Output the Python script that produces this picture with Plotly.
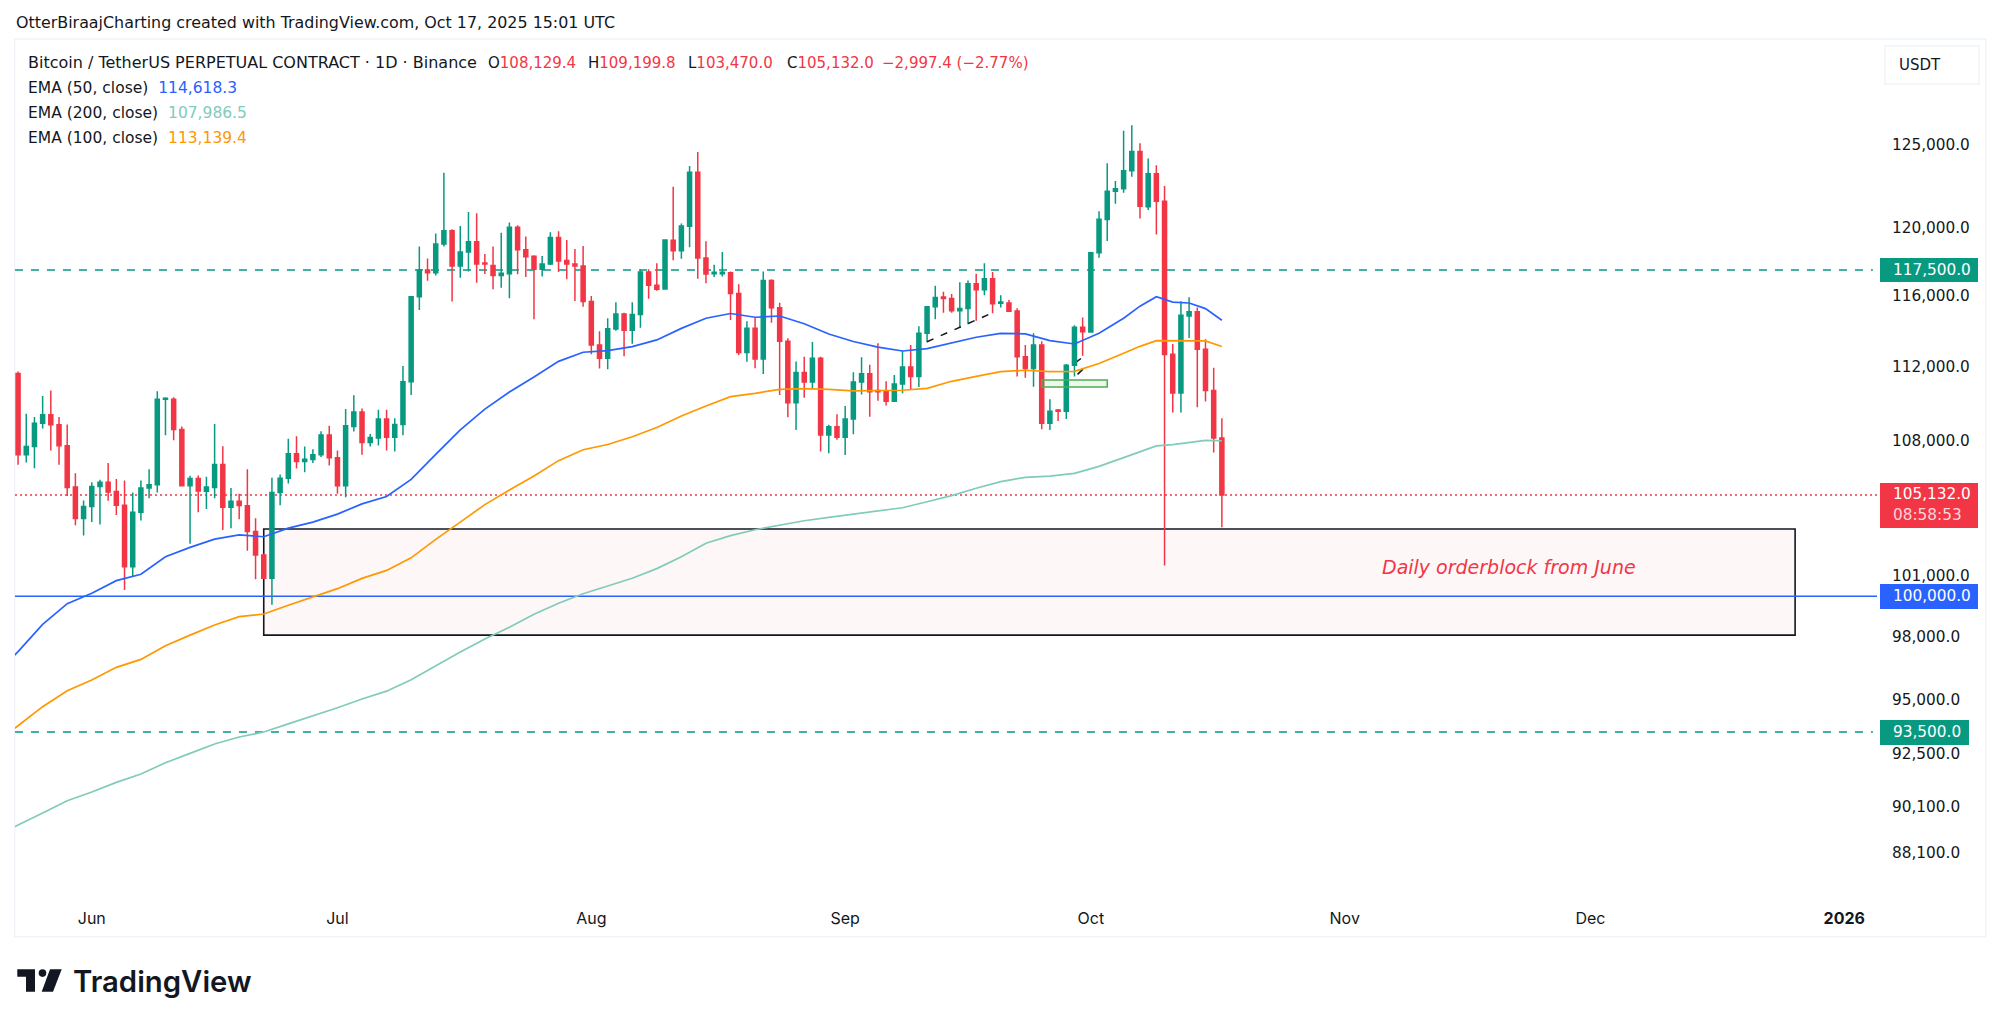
import math
import pandas as pd
import plotly.graph_objects as go

W, H = 2000, 1026
first_day = "2025-05-23"

opens = [111640,107240,107680,108930,109380,108840,107720,105540,103910,104530,105570,105800,105310,104600,101460,104240,105490,105660,110230,110230,108590,105610,105990,105330,105520,106730,104500,104810,104570,103250,102050,100890,105260,106010,107290,106880,106990,107240,108300,107080,105610,108750,109540,107890,108140,109150,108180,108860,
111190,115960,117500,117350,119020,119810,117740,118550,119160,117910,117770,117180,117290,120010,118690,118300,117540,117850,119410,118050,117850,117740,115680,113230,112480,114120,114980,114050,114940,117390,116620,116410,119240,118630,120070,123320,118200,117290,117290,117350,116150,112800,114160,112440,116890,115330,113430,110040,111700,111170,112480,108300,108740,108170,
109160,111170,111630,110700,110640,110120,111060,112000,111470,113880,115390,115940,115860,115160,115280,116710,116360,117000,115580,115600,115150,112570,111910,113220,108920,109640,109570,112100,114220,113950,118510,120470,122170,122320,123420,124590,121240,123230,121570,112710,110570,114860,115100,112980,110700,108129.4]
highs = [111750,109440,109260,110410,110700,109260,108860,106270,104840,105800,105920,106800,105970,105890,105260,105890,106480,110670,110340,110340,108750,106130,106150,106080,108890,107700,105490,105190,106480,103930,102120,106030,106200,108090,108230,107680,107540,108500,108790,107470,109690,110450,109720,108350,109650,109650,109200,112060,
116000,118870,118180,119650,123290,119890,120090,120920,120850,118430,118870,119690,120300,120130,119470,118360,118320,119710,119770,119260,118730,118900,116000,113990,114730,115640,115040,115640,117540,117540,117890,119300,122440,120240,123700,124570,119180,117810,118550,117410,116680,114560,114790,117410,116970,115620,113600,112310,112570,113390,112570,108850,109410,109860,
111710,112540,112120,113320,111210,111560,112890,113220,114280,115430,116590,116250,116120,116790,116890,117280,117890,117380,116040,115770,115300,113220,113880,113430,110230,109700,112160,114330,114780,118570,120960,123870,122790,125880,126220,125100,124160,123750,122480,113280,115700,115930,115350,113540,111960,109199.8]
lows = [106710,106830,106530,108640,107470,106710,105080,103570,103050,103730,103610,104830,104100,100310,101000,103810,104960,105260,108280,108020,105610,102630,104240,104410,104960,103320,103420,103880,102270,100840,100860,99570,104600,105730,106520,106320,106800,107120,106670,105190,105010,108480,107240,107680,107730,107470,107420,108280,
110460,115200,116880,117180,118870,115680,117060,117420,116770,117270,116390,116480,115870,117250,117090,114670,117120,117790,117390,116970,115710,115390,112710,111910,111870,114030,112590,113300,114200,115850,116310,116390,118070,118160,118830,117000,116730,117090,117120,114630,112670,112290,111930,111610,114480,110460,109250,108560,110310,110810,107410,107320,108040,107230,
108330,110490,109280,110150,109880,110100,110550,110730,110900,113380,114670,115050,115050,114200,114390,114590,116050,115010,115340,115120,111470,111410,110910,108600,108570,109050,109150,111470,112630,113910,118220,119200,121420,122080,123050,120530,121040,119590,101530,109510,109510,113620,109790,110100,107360,103470.0]
closes = [107240,107680,108930,109380,108840,107720,105520,103910,104530,105570,105800,105290,104600,101460,104240,105490,105660,110230,110280,108590,105610,105990,105340,105540,106730,104500,104810,104590,103250,102050,100890,105260,106010,107290,106880,107010,107240,108300,107080,105610,108790,109540,107890,108160,109150,108180,108860,111190,
115960,117500,117350,119020,119810,117740,118550,119160,117850,117850,117180,117310,120010,118690,118280,117540,117850,119410,118030,117850,117740,115680,113230,112480,114140,114980,114050,114940,117390,116620,116390,119260,118630,120090,123320,118200,117270,117370,117370,116150,112800,114160,112440,116890,115330,113430,110040,111700,111170,112480,108300,108740,108170,109160,
111170,111630,110640,110640,110120,111060,112000,111470,113880,115390,115920,115860,115160,115280,116710,116360,117000,115560,115660,115130,112570,111910,113220,108920,109570,109570,112100,114220,113970,118510,120490,122170,122320,123420,124590,121260,123230,121570,112690,110570,114900,115100,112980,110700,108130,105132.0]

ema_days = [-1, 0, 3, 6, 9, 12, 15, 18, 21, 24, 27, 30, 33, 36, 39, 42, 45, 48, 51, 54, 57, 60, 63, 66, 69, 72, 75, 78, 81, 84, 87, 90, 93, 96, 99, 102, 105, 108, 111, 114, 117, 120, 123, 126, 129, 132, 135, 137, 139, 141, 143, 145, 147]
ema50 = [96890,97290,98610,99630,100140,100770,101090,101970,102440,102860,103080,102980,103420,103730,104140,104670,105050,105940,107260,108570,109690,110620,111450,112310,112820,112910,113130,113510,114160,114730,115000,114790,114860,114420,113840,113420,113110,112890,113020,113320,113660,113880,113850,113470,113280,113880,114730,115420,115960,115650,115600,115280,114618.3]
ema100 = [93520,93790,94680,95430,95940,96540,96920,97580,98090,98580,98990,99120,99550,99970,100370,100880,101280,101910,102850,103730,104630,105390,106120,106930,107510,107790,108200,108700,109320,109860,110370,110550,110770,110810,110770,110680,110680,110720,110820,111210,111480,111740,111820,111740,111760,112190,112760,113150,113470,113470,113430,113450,113139.4]
ema200 = [89110,89300,89830,90380,90770,91200,91580,92090,92520,92950,93270,93500,93880,94240,94630,95040,95410,95950,96620,97280,97900,98470,99110,99650,100120,100490,100890,101370,101970,102650,103040,103340,103580,103800,103970,104130,104320,104470,104780,105100,105480,105830,106050,106120,106260,106630,107090,107410,107710,107780,107910,108010,107986.5]

price_ticks = [125000, 120000, 116000, 112000, 108000, 101000, 98000, 95000, 92500, 90100, 88100]
month_ticks = ["2025-06-01", "2025-07-01", "2025-08-01", "2025-09-01", "2025-10-01", "2025-11-01", "2025-12-01", "2026-01-01"]
month_labels = ["Jun", "Jul", "Aug", "Sep", "Oct", "Nov", "Dec", "<b>2026</b>"]

res_hi, res_lo, round_level = 117500, 93500, 100000
last_close = 105132.0
zone_hi, zone_lo = 103374, 98092
zone_start, zone_end = "2025-06-22", "2025-12-26"
small_hi, small_lo = 111280, 110890
small_start, small_end = "2025-09-25", "2025-10-03"
trend_x = ["2025-09-11", "2025-09-19"]
trend_y = [113410, 115045]
flag1_x = ["2025-09-29 00:00", "2025-09-29 19:00"]
flag1_y = [112200, 112470]
flag2_x = ["2025-09-29 09:00", "2025-09-30 01:00"]
flag2_y = [111590, 111880]
y_top, y_bottom = 131658, 86175
x_left, x_right = "2025-05-22 15:00", "2026-01-05 00:00"
dash_end = "2026-01-04 12:00"

GREEN, RED, BLUE, ORANGE, TEAL, INK = "#089981", "#F23645", "#2962FF", "#FF9800", "#80CBBA", "#131722"
FONT = "DejaVu Sans"

def px(v): return v / W
def py(v): return 1 - v / H

days = pd.date_range(first_day, periods=len(opens))
ema_x = [pd.Timestamp(first_day) + pd.Timedelta(days=d) for d in ema_days]

fig = go.Figure()
for vals, col in [(ema200, TEAL), (ema100, ORANGE), (ema50, BLUE)]:
    fig.add_trace(go.Scatter(x=ema_x, y=vals, mode="lines", line=dict(color=col, width=1.7),
                             hoverinfo="skip", showlegend=False))
fig.add_trace(go.Candlestick(
    x=days, open=opens, high=highs, low=lows, close=closes, whiskerwidth=0,
    increasing=dict(line=dict(color=GREEN, width=1.5), fillcolor=GREEN),
    decreasing=dict(line=dict(color=RED, width=1.5), fillcolor=RED),
    hoverinfo="skip", showlegend=False))

shapes = [
    dict(type="rect", xref="paper", yref="paper", x0=px(14.7), x1=px(1985.7), y0=py(39), y1=py(936.7),
         line=dict(color="#F0F3FA", width=1.5), layer="below"),
    dict(type="rect", xref="x", yref="y", x0=zone_start, x1=zone_end, y0=zone_lo, y1=zone_hi,
         fillcolor="#FDF7F7", line=dict(color=INK, width=1.6), layer="below"),
    dict(type="line", xref="x", yref="y", x0=x_left, x1=dash_end, y0=res_hi, y1=res_hi,
         line=dict(color=GREEN, width=1.6, dash="8px,8px"), layer="below"),
    dict(type="line", xref="x", yref="y", x0=x_left, x1=dash_end, y0=res_lo, y1=res_lo,
         line=dict(color=GREEN, width=1.6, dash="8px,8px"), layer="below"),
    dict(type="line", xref="x", yref="y", x0=x_left, x1=x_right, y0=round_level, y1=round_level,
         line=dict(color=BLUE, width=1.5), layer="below"),
    dict(type="line", xref="x", yref="y", x0=x_left, x1=x_right, y0=last_close, y1=last_close,
         line=dict(color=RED, width=1.5, dash="2px,3px"), layer="below"),
    dict(type="line", xref="x", yref="y", x0=flag1_x[0], x1=flag1_x[1], y0=flag1_y[0], y1=flag1_y[1],
         line=dict(color=INK, width=1.5), layer="below"),
    dict(type="line", xref="x", yref="y", x0=flag2_x[0], x1=flag2_x[1], y0=flag2_y[0], y1=flag2_y[1],
         line=dict(color=INK, width=1.5), layer="below"),
    dict(type="rect", xref="x", yref="y", x0=small_start, x1=small_end, y0=small_lo, y1=small_hi,
         fillcolor="rgba(76,175,80,0.10)", line=dict(color="#4CAF50", width=1.5), layer="above"),
    dict(type="line", xref="x", yref="y", x0=trend_x[0], x1=trend_x[1], y0=trend_y[0], y1=trend_y[1],
         line=dict(color=INK, width=1.5, dash="7px,8px"), layer="above"),
    # price scale tags and unit button
    dict(type="rect", xref="paper", yref="paper", x0=px(1885), x1=px(1979), y0=py(46), y1=py(84),
         fillcolor="white", line=dict(color="#F0F3FA", width=1.5)),
    dict(type="rect", xref="paper", yref="paper", x0=px(1880), x1=px(1978), y0=py(258), y1=py(282),
         fillcolor=GREEN, line=dict(width=0)),
    dict(type="rect", xref="paper", yref="paper", x0=px(1880), x1=px(1978), y0=py(483), y1=py(528),
         fillcolor=RED, line=dict(width=0)),
    dict(type="rect", xref="paper", yref="paper", x0=px(1880), x1=px(1978), y0=py(584), y1=py(609),
         fillcolor=BLUE, line=dict(width=0)),
    dict(type="rect", xref="paper", yref="paper", x0=px(1880), x1=px(1969), y0=py(720), y1=py(745),
         fillcolor=GREEN, line=dict(width=0)),
]

def poly(points):
    return "M" + " L".join(f"{px(a):.5f},{py(b):.5f}" for a, b in points) + " Z"

logo = "#131722"
shapes += [
    dict(type="path", xref="paper", yref="paper", fillcolor=logo, line=dict(width=0),
         path=poly([(17.3, 969.3), (35, 969.3), (35, 991.7), (26, 991.7), (26, 976.7), (17.3, 976.7)])),
    dict(type="circle", xref="paper", yref="paper", x0=px(38.7), x1=px(46.3), y0=py(969.3), y1=py(976.9),
         fillcolor=logo, line=dict(width=0)),
    dict(type="path", xref="paper", yref="paper", fillcolor=logo, line=dict(width=0),
         path=poly([(50, 969.3), (61.7, 969.3), (53, 991.7), (41.7, 991.7)])),
]

def note(x, y, text, size=15, color=INK, anchor="left", **kw):
    return dict(xref="paper", yref="paper", x=px(x), y=py(y), text=text, showarrow=False,
                xanchor=anchor, yanchor="middle", align="left", borderpad=0,
                font=dict(family=kw.pop("family", FONT), size=size, color=color, **kw))

def c(text, col):
    return f'<span style="color:{col}">{text}</span>'

annotations = [
    note(15, 22.7, "OtterBiraajCharting created with TradingView.com, Oct 17, 2025 15:01 UTC", 15.9),
    note(27, 63, "Bitcoin / TetherUS PERPETUAL CONTRACT · 1D · Binance", 16),
    note(487, 63, "O" + c("108,129.4", RED), 15),
    note(587, 63, "H" + c("109,199.8", RED), 15),
    note(687, 63, "L" + c("103,470.0", RED), 15),
    note(786, 63, "C" + c("105,132.0", RED), 15),
    note(881, 63, c("−2,997.4 (−2.77%)", RED), 15),
    note(27, 88, "EMA (50, close)  " + c("114,618.3", BLUE), 15.5),
    note(27, 113, "EMA (200, close)  " + c("107,986.5", TEAL), 15.5),
    note(27, 138, "EMA (100, close)  " + c("113,139.4", ORANGE), 15.5),
    note(1898, 65, "USDT", 15),
    note(1892, 270, "117,500.0", 15.3, "white"),
    note(1892, 494, "105,132.0", 15.3, "white"),
    note(1892, 515, "08:58:53", 15.3, "#FBD5DA"),
    note(1892, 596, "100,000.0", 15.3, "white"),
    note(1892, 732, "93,500.0", 15.3, "white"),
    note(1509, 567, "<i>Daily orderblock from June</i>", 19, RED, anchor="center"),
    note(72, 981, "TradingView", 29.3, "#131722", family="Inter", weight=600),
]

fig.update_layout(
    width=W, height=H, margin=dict(l=0, r=0, t=0, b=0, pad=0, autoexpand=False),
    paper_bgcolor="white", plot_bgcolor="white", showlegend=False,
    shapes=shapes, annotations=annotations, boxgap=0.3, hovermode=False,
    font=dict(family=FONT, color=INK),
    xaxis=dict(domain=[px(15), px(1877)], type="date", range=[x_left, x_right], rangeslider=dict(visible=False),
               showgrid=False, zeroline=False, showline=False, ticks="", tickmode="array",
               tickvals=month_ticks, ticktext=month_labels, tickfont=dict(family="Inter", size=16, color=INK),
               ticklabelstandoff=10, anchor="y"),
    yaxis=dict(domain=[py(897), py(40)], type="log", range=[math.log10(y_bottom), math.log10(y_top)],
               side="right", showgrid=False, zeroline=False, showline=False, ticks="", tickmode="array",
               tickvals=price_ticks, ticktext=[f"{v:,.1f}" for v in price_ticks],
               tickfont=dict(family=FONT, size=15.3, color=INK), ticklabelstandoff=14, anchor="x"),
)

fig.write_html("out.html", config={"displayModeBar": False},
               post_script="document.body.style.margin='0';document.documentElement.style.overflow='hidden';")
